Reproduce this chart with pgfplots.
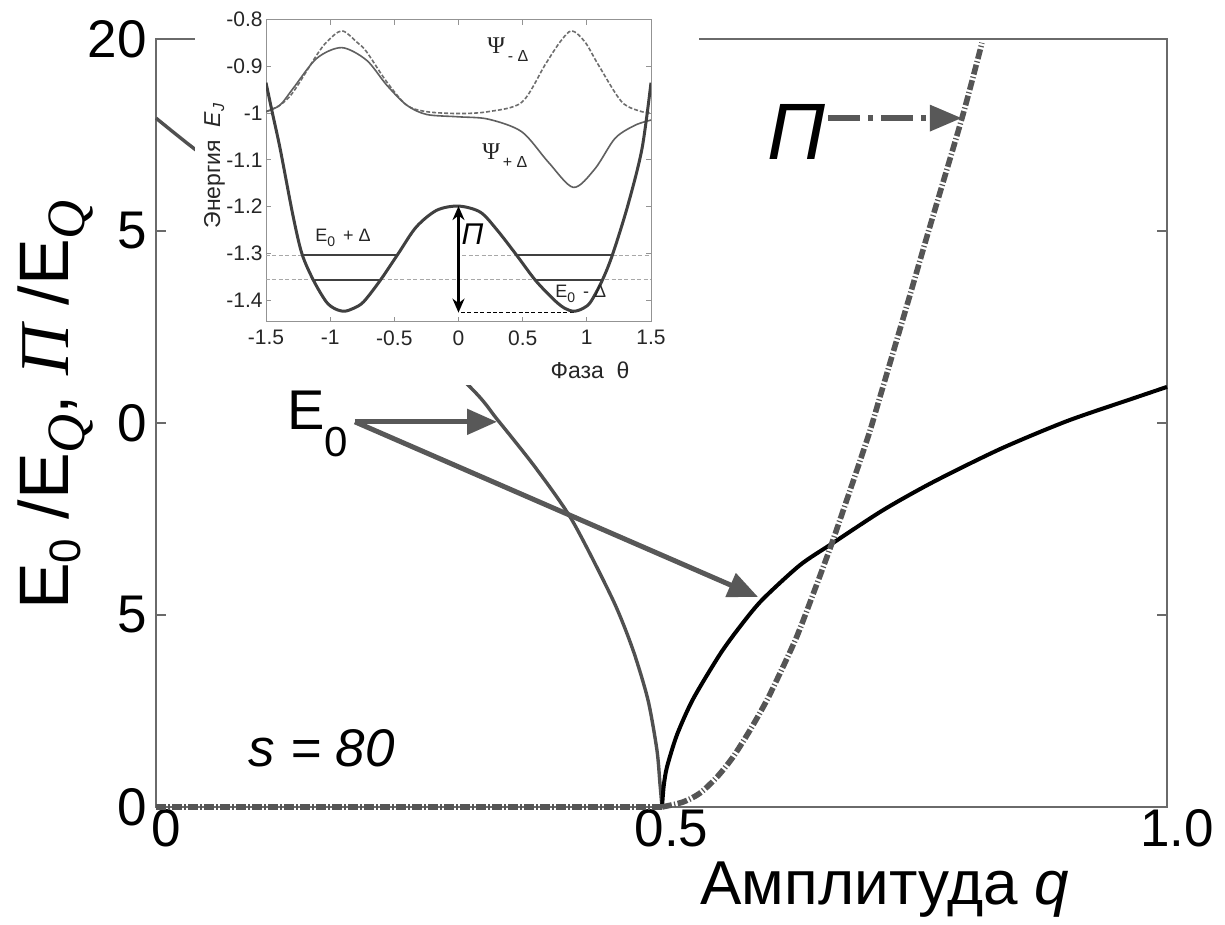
\documentclass[border=0pt]{standalone}
\usepackage{fontspec}
\setmainfont{Liberation Sans}
\newfontfamily\serif{Liberation Serif}
\usepackage{pgfplots}
\pgfplotsset{compat=1.18}
\usetikzlibrary{arrows.meta}
\definecolor{axgray}{HTML}{6A6A6A}
\definecolor{cA}{HTML}{505050}
\definecolor{cC}{HTML}{555555}
\definecolor{arr}{HTML}{585858}
\definecolor{pot}{HTML}{404040}
\definecolor{psip}{HTML}{606060}
\definecolor{psim}{HTML}{6E6E6E}
\definecolor{lgray}{HTML}{A8A8A8}
\begin{document}
\begin{tikzpicture}
\useasboundingbox (0,0) rectangle (612.5pt,462.5pt);
\begin{axis}[
  at={(78pt,59pt)}, anchor=south west, scale only axis,
  width=505.5pt, height=384pt,
  xmin=0, xmax=1, ymin=0, ymax=20,
  xtick={0,0.5,1}, xticklabels={0,0.5,1.0},
  ytick={0,5,10,15,20}, yticklabels={0,5,0,5,20},
  tick align=inside, major tick length=5pt,
  axis line style={draw=axgray, line width=0.8pt},
  every tick/.style={draw=axgray, line width=0.8pt},
  tick label style={font=\fontsize{26.5}{26.5}\selectfont},
  xticklabel style={anchor=north, inner sep=0pt, xshift=5pt, yshift=-1pt},
  yticklabel style={anchor=east, inner sep=0pt, xshift=-4.5pt},
  /pgf/number format/assume math mode=true,
  clip=false,
]
% branch below q = 0.5
\addplot[cA, line width=1.7pt, smooth, tension=0.45] coordinates {
(0,17.94) (0.035,17.2) (0.1,15.9) (0.2,13.75) (0.3106,10.94) (0.3373,10.1)
(0.375,8.85) (0.4115,7.47) (0.452,5.39) (0.4718,4.09) (0.4866,2.79)
(0.4955,1.48) (0.4985,0.60) (0.5005,0)};
% branch above q = 0.5
\addplot[black, line width=2pt, smooth, tension=0.45] coordinates {
(0.5005,0) (0.5022,0.55) (0.5054,1.04) (0.5153,1.88) (0.5312,2.81)
(0.5579,3.98) (0.578,4.71) (0.5994,5.39) (0.637,6.30) (0.6696,6.875)
(0.7191,7.73) (0.7685,8.46) (0.8348,9.32) (0.9011,10.05) (0.9664,10.64) (1.0,10.94)};
% barrier Pi
\addplot[cC, line width=2.8pt, dash pattern=on 5pt off 1.2pt on 0.6pt off 1.2pt] coordinates {
(0,0) (0.5005,0)};
\addplot[cC, line width=2.8pt, dash pattern=on 5pt off 1.2pt on 0.6pt off 1.2pt, smooth, tension=0.45] coordinates {
(0.5005,0) (0.5213,0.13) (0.538,0.36) (0.5549,0.78) (0.5707,1.30)
(0.5875,2.0) (0.6044,2.79) (0.6202,3.65) (0.634,4.45) (0.6469,5.33)
(0.6696,6.95) (0.7033,9.56) (0.7161,10.68) (0.7443,13.2) (0.7636,14.95)
(0.7972,17.94) (0.817,19.9)};
% annotations
\draw[arr, line width=2.5pt, -{Triangle[length=15pt,width=12.5pt]}]
  (axis cs:0.1968,10.03) -- (axis cs:0.3373,10.03);
\draw[arr, line width=2.5pt, -{Triangle[length=15pt,width=12.5pt]}]
  (axis cs:0.1968,10.03) -- (axis cs:0.5955,5.47);
\draw[arr, line width=3pt, dash pattern=on 16pt off 4pt on 2.5pt off 4pt,
  -{Triangle[length=16pt,width=12.5pt]}]
  (axis cs:0.6647,17.94) -- (axis cs:0.7972,17.94);
\node[anchor=base west, inner sep=0pt, font=\fontsize{28}{28}\selectfont]
  at (axis cs:0.1296,9.82) {E\raisebox{-13.5pt}{\fontsize{21}{21}\selectfont 0}};
\node[font=\fontsize{26.5}{26.5}\selectfont\itshape] at (axis cs:0.164,1.54) {s = 80};
\node[font=\fontsize{40}{40}\selectfont\itshape] at (axis cs:0.634,17.58) {Π};
\end{axis}
% white panel under the inset
\fill[white] (97.5pt,270pt) rectangle (349.5pt,462.5pt);
\begin{axis}[
  at={(133pt,301.5pt)}, anchor=south west, scale only axis,
  width=192.5pt, height=151.2pt,
  xmin=-1.5, xmax=1.5, ymin=-1.447, ymax=-0.8,
  xtick={-1.5,-1,-0.5,0,0.5,1,1.5}, xticklabels={-1.5,-1,-0.5,0,0.5,1,1.5},
  ytick={-1.4,-1.3,-1.2,-1.1,-1,-0.9,-0.8},
  yticklabels={-1.4,-1.3,-1.2,-1.1,-1,-0.9,-0.8},
  tick align=inside, major tick length=2.5pt,
  axis line style={draw=gray!85, line width=0.5pt},
  every tick/.style={draw=gray!85, line width=0.5pt},
  tick label style={font=\fontsize{10.5}{10.5}\selectfont, text=black!85},
  xticklabel style={anchor=north, inner sep=0pt, yshift=-4pt},
  yticklabel style={anchor=east, inner sep=0pt, xshift=-1.5pt},
]
% level lines
\addplot[lgray, line width=0.5pt, dash pattern=on 2pt off 1.2pt] coordinates {(-1.5,-1.304) (-1.22,-1.304)};
\addplot[lgray, line width=0.5pt, dash pattern=on 2pt off 1.2pt] coordinates {(0.03,-1.304) (0.45,-1.304)};
\addplot[lgray, line width=0.5pt, dash pattern=on 2pt off 1.2pt] coordinates {(1.20,-1.304) (1.5,-1.304)};
\addplot[lgray, line width=0.5pt, dash pattern=on 2pt off 1.2pt] coordinates {(-1.5,-1.357) (1.5,-1.357)};
\addplot[pot, line width=0.9pt] coordinates {(-1.22,-1.304) (-0.47,-1.304)};
\addplot[pot, line width=0.9pt] coordinates {(0.45,-1.304) (1.20,-1.304)};
\addplot[pot, line width=0.9pt] coordinates {(-1.13,-1.357) (-0.61,-1.357)};
\addplot[pot, line width=0.9pt] coordinates {(0.60,-1.357) (1.12,-1.357)};
\addplot[black, line width=0.6pt, dash pattern=on 2pt off 1.2pt] coordinates {(0.02,-1.427) (0.90,-1.427)};
% Psi_{-Delta}
\addplot[psim, line width=0.8pt, dash pattern=on 2pt off 1pt, smooth] coordinates {
(-1.5,-0.997) (-1.391,-0.983) (-1.288,-0.955) (-1.105,-0.876) (-1.027,-0.848)
(-0.91,-0.824) (-0.793,-0.848) (-0.716,-0.869) (-0.56,-0.933) (-0.404,-0.983)
(-0.248,-0.997) (0,-1.001) (0.232,-0.997) (0.493,-0.977) (0.674,-0.897)
(0.791,-0.848) (0.882,-0.824) (0.986,-0.848) (1.09,-0.897) (1.272,-0.976)
(1.428,-0.997) (1.5,-0.999)};
% Psi_{+Delta}
\addplot[psip, line width=0.8pt, smooth] coordinates {
(-1.5,-0.997) (-1.391,-0.983) (-1.288,-0.947) (-1.105,-0.883) (-0.91,-0.860)
(-0.716,-0.887) (-0.56,-0.940) (-0.404,-0.983) (-0.248,-1.003) (0,-1.008)
(0.232,-1.013) (0.493,-1.040) (0.70,-1.105) (0.895,-1.159) (1.064,-1.119)
(1.22,-1.054) (1.376,-1.026) (1.5,-1.015)};
% potential
\addplot[pot, line width=1.5pt, smooth] coordinates {
(-1.5,-0.935) (-1.45,-1.0) (-1.39,-1.076) (-1.29,-1.219) (-1.22,-1.301)
(-1.13,-1.358) (-1.03,-1.404) (-0.96,-1.419) (-0.89,-1.424) (-0.82,-1.418)
(-0.74,-1.404) (-0.61,-1.358) (-0.47,-1.301) (-0.33,-1.244) (-0.17,-1.208)
(0,-1.199) (0.17,-1.212) (0.30,-1.250) (0.45,-1.303) (0.60,-1.358) (0.75,-1.401)
(0.83,-1.418) (0.90,-1.424) (0.97,-1.418) (1.03,-1.404) (1.12,-1.358)
(1.20,-1.303) (1.32,-1.197) (1.43,-1.076) (1.5,-0.935)};
\draw[black, line width=1.2pt, {Stealth[length=7pt,width=6pt]}-{Stealth[length=7pt,width=6pt]}]
  (axis cs:0,-1.199) -- (axis cs:0,-1.427);
\node[font=\fontsize{15}{15}\selectfont\itshape] at (axis cs:0.109,-1.259) {Π};
\node[anchor=west, inner sep=0pt, font=\fontsize{12}{12}\selectfont, text=black!85]
  at (axis cs:0.222,-0.864) {{\serif Ψ}\raisebox{-4pt}{\fontsize{8}{8}\selectfont\,- Δ}};
\node[anchor=west, inner sep=0pt, font=\fontsize{12}{12}\selectfont, text=black!85]
  at (axis cs:0.183,-1.092) {{\serif Ψ}\raisebox{-4pt}{\fontsize{8}{8}\selectfont\,+ Δ}};
\node[anchor=west, inner sep=0pt, font=\fontsize{9}{9}\selectfont, text=black!85]
  at (axis cs:-1.118,-1.268) {E\raisebox{-2.5pt}{\fontsize{7}{7}\selectfont 0}\, + Δ};
\node[anchor=west, inner sep=0pt, font=\fontsize{9}{9}\selectfont, text=black!85]
  at (axis cs:0.752,-1.386) {E\raisebox{-2.5pt}{\fontsize{7}{7}\selectfont 0}\, - Δ};
\end{axis}
% inset axis titles
\node[rotate=90, anchor=base, font=\fontsize{11.5}{11.5}\selectfont, text=black!85]
  at (110pt,379.5pt) {Энергия\ \ \textit{E}\raisebox{-2pt}{\fontsize{8}{8}\selectfont\itshape J}};
\node[font=\fontsize{11.5}{11.5}\selectfont, text=black!85] at (295pt,277.5pt) {Фаза\ \ θ};
% main axis titles
\node[anchor=base, font=\fontsize{31}{31}\selectfont] at (442.5pt,10pt) {Амплитуда \textit{q}};
\node[rotate=90, anchor=base, font=\fontsize{35}{35}\selectfont] at (34pt,260pt)
  {E\raisebox{-6pt}{\fontsize{22}{22}\selectfont 0} /E\raisebox{-8pt}{\fontsize{27}{27}\selectfont\serif\itshape Q}, {\serif\itshape Π} /E\raisebox{-8pt}{\fontsize{27}{27}\selectfont\serif\itshape Q}};
\end{tikzpicture}
\end{document}
